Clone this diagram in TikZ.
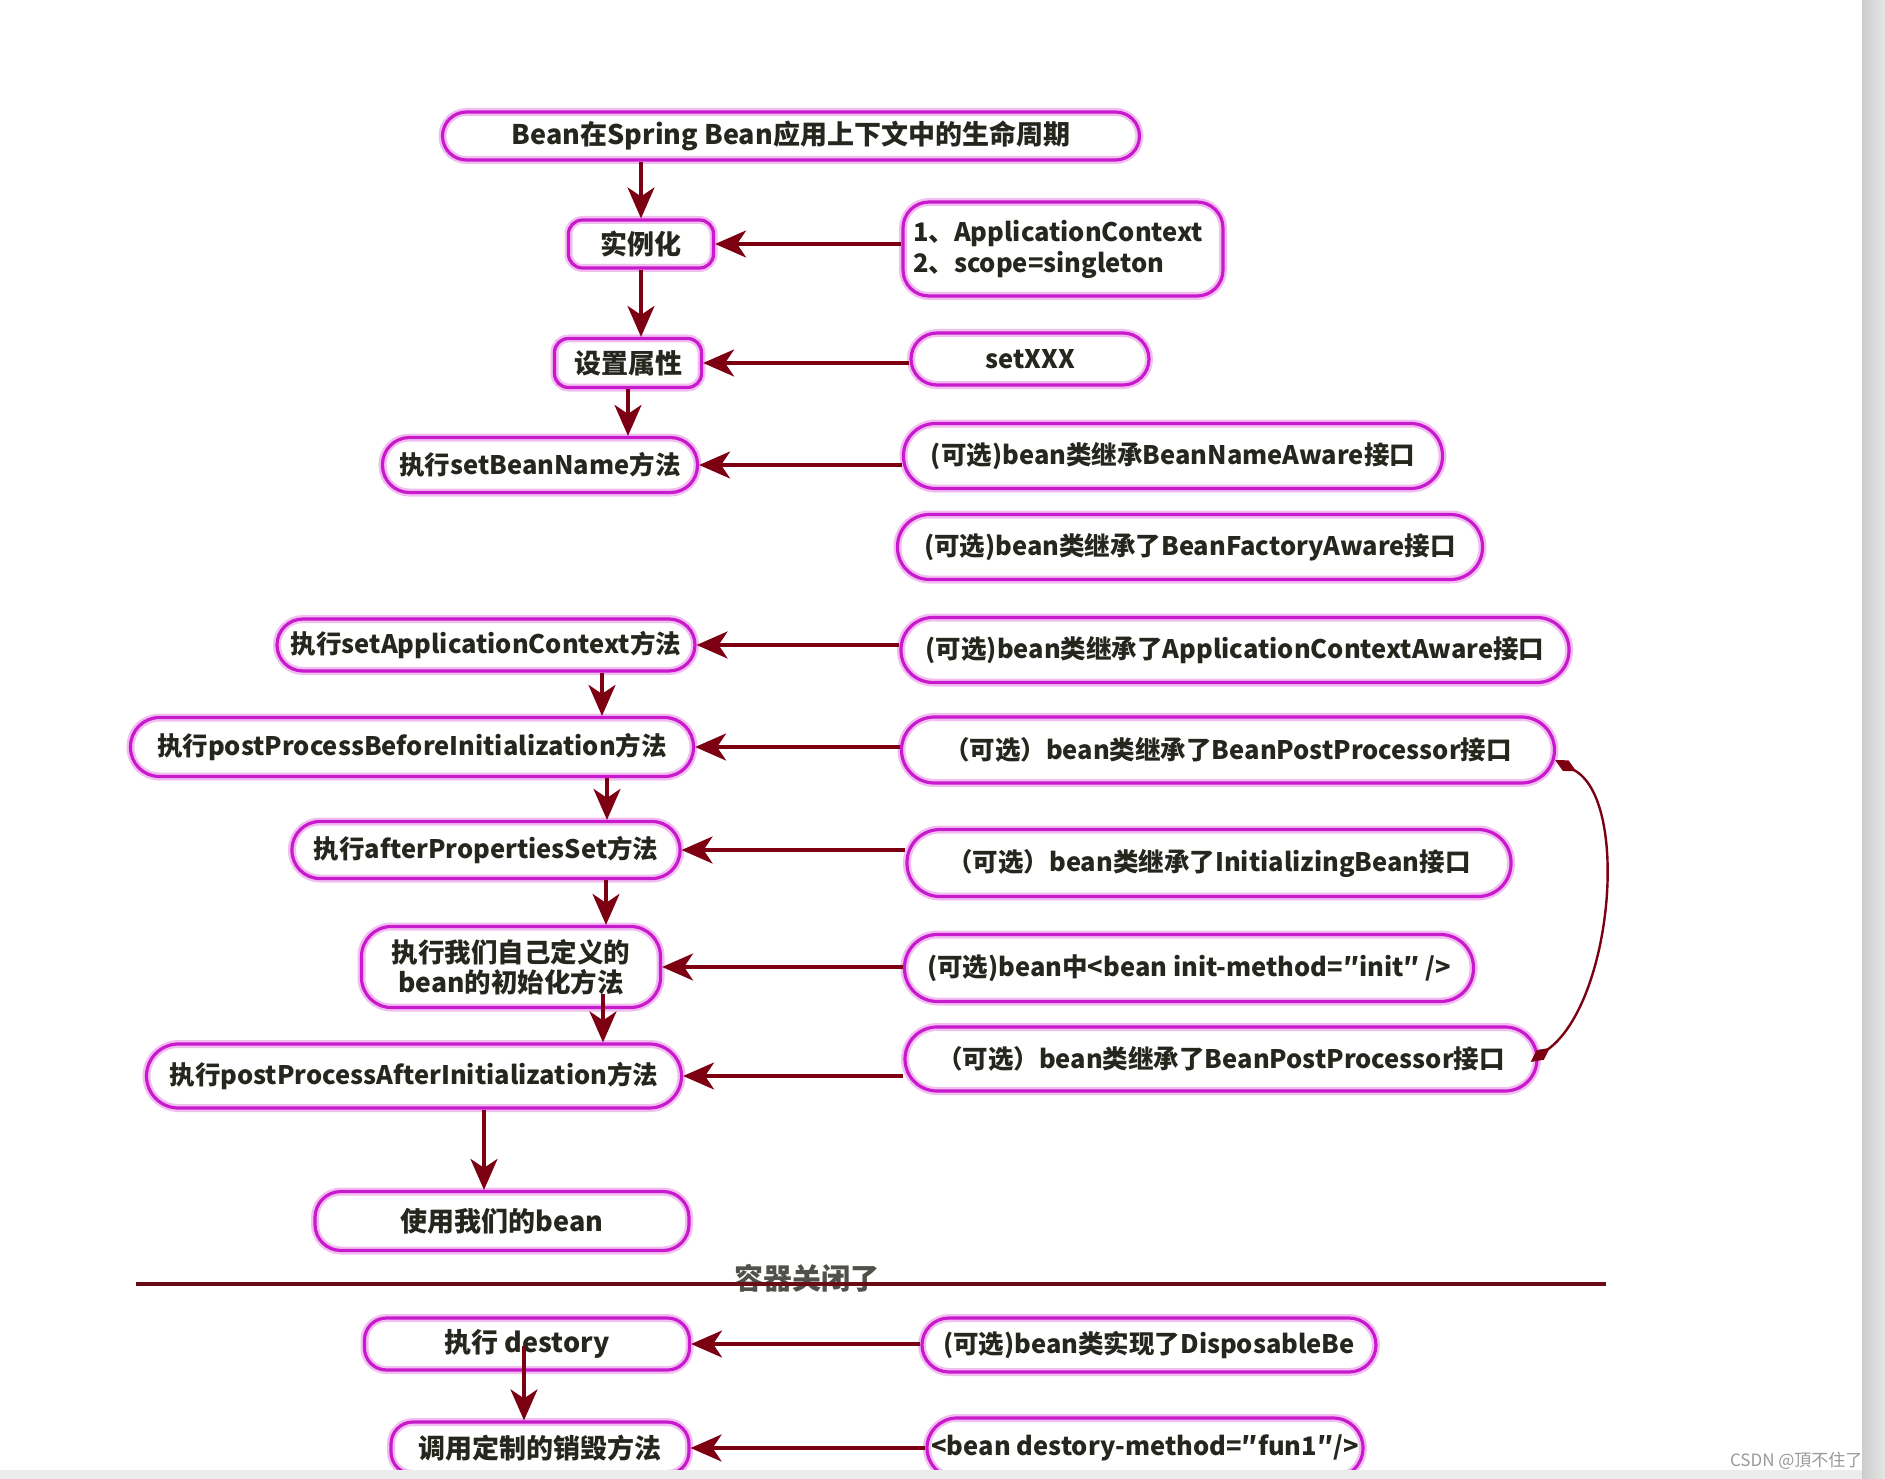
\documentclass[tikz,border=0pt]{standalone}
\usepackage{fontspec}
\setmainfont{Noto Sans CJK SC}
\usetikzlibrary{arrows.meta,calc}
\definecolor{mag}{RGB}{200,25,205}
\definecolor{glow}{RGB}{242,190,242}
\definecolor{arrc}{RGB}{125,0,18}
\definecolor{linec}{RGB}{105,12,22}
\definecolor{txt}{RGB}{38,38,30}
\newcommand\fs{\fontsize{25.5pt}{31pt}\selectfont\bfseries}
\tikzset{
  nd/.style={draw=mag, line width=3.2pt, rounded corners=#1,
     preaction={draw=glow, line width=8pt}, text=txt, inner sep=0pt, font=\fs, align=center},
  sz/.style 2 args={minimum width=#1pt, minimum height=#2pt},
  arr/.style={draw=arrc, line width=3.6pt, -{Stealth[length=31pt,width=27pt,inset=9pt]}},
  curv/.style={draw=arrc, line width=2.4pt, {Diamond[length=24pt,width=12pt]}-{Diamond[length=24pt,width=12pt]}},
}
\begin{document}
\begin{tikzpicture}[x=1pt,y=-1pt]
\useasboundingbox (0,0) rectangle (1885,1479);
\fill[white] (0,0) rectangle (1885,1479);

% left column
\node[nd=24pt, sz={697}{48}, font=\fontsize{27pt}{31pt}\selectfont\bfseries] (top) at (791,136) {Bean在Spring Bean应用上下文中的生命周期};
\node[nd=14pt, sz={145}{48}, font=\fontsize{27pt}{31pt}\selectfont\bfseries] (inst) at (641,244) {实例化};
\node[nd=14pt, sz={147}{49}, font=\fontsize{27pt}{31pt}\selectfont\bfseries] (setattr) at (628,363) {设置属性};
\node[nd=27pt, sz={315}{55}] (sbn) at (540,465) {执行setBeanName方法};
\node[nd=26pt, sz={418}{52}] (sac) at (486,645) {执行setApplicationContext方法};
\node[nd=29pt, sz={563}{59}] (ppb) at (412,747) {执行postProcessBeforeInitialization方法};
\node[nd=28pt, sz={388}{57}] (aps) at (486,850) {执行afterPropertiesSet方法};
\node[nd=30pt, sz={299}{81}, font=\fontsize{26.5pt}{30pt}\selectfont\bfseries] (cust) at (511,967) {执行我们自己定义的\\bean的初始化方法};
\node[nd=32pt, sz={535}{64}] (ppa) at (414,1076) {执行postProcessAfterInitialization方法};
\node[nd=26pt, sz={374}{59}, font=\fontsize{27pt}{31pt}\selectfont\bfseries] (use) at (502,1221) {使用我们的bean};
\node[nd=22pt, sz={325}{52}, font=\fontsize{27pt}{31pt}\selectfont\bfseries] (des) at (527,1344) {执行 destory};
\node[nd=22pt, sz={298}{52}, font=\fontsize{27pt}{31pt}\selectfont\bfseries] (call) at (540,1448) {调用定制的销毁方法};

% right column
\node[nd=26pt, sz={319}{94}, align=left, text width=300pt, inner xsep=10pt] (ctx) at (1063,249) {1、ApplicationContext\\2、scope=singleton};
\node[nd=26pt, sz={238}{52}] (setx) at (1030,359) {setXXX};
\node[nd=32pt, sz={539}{65}] (bna) at (1173,456) {(可选)bean类继承BeanNameAware接口};
\node[nd=32pt, sz={585}{65}] (bfa) at (1190,547) {(可选)bean类继承了BeanFactoryAware接口};
\node[nd=32pt, sz={668}{65}] (aca) at (1235,650) {(可选)bean类继承了ApplicationContextAware接口};
\node[nd=33pt, sz={653}{66}] (bpp1) at (1228,750) {（可选）bean类继承了BeanPostProcessor接口};
\node[nd=33pt, sz={604}{67}] (ib) at (1209,863) {（可选）bean类继承了InitializingBean接口};
\node[nd=33pt, sz={569}{67}] (im) at (1189,968) {(可选)bean中<bean init-method=″init″ />};
\node[nd=32pt, sz={632}{64}] (bpp2) at (1221,1059) {（可选）bean类继承了BeanPostProcessor接口};
\node[nd=27pt, sz={454}{54}] (disp) at (1149,1345) {(可选)bean类实现了DisposableBe};
\node[nd=30pt, sz={436}{60}] (dm) at (1145,1448) {<bean destory-method=″fun1″/>};

% anchor points for vertical arrows
\coordinate (v1a) at ($(sac.south)+(116,0)$);
\coordinate (v1b) at (v1a |- ppb.north);
\coordinate (v2a) at ($(ppb.south)+(195,0)$);
\coordinate (v2b) at (v2a |- aps.north);
\coordinate (v3a) at ($(aps.south)+(120,0)$);
\coordinate (v3b) at (v3a |- cust.north);
\coordinate (v4a) at ($(cust.south)+(92,-15)$);
\coordinate (v4b) at (v4a |- ppa.north);
\coordinate (v5a) at ($(ppa.south)+(70,0)$);
\coordinate (v5b) at (v5a |- use.north);
\coordinate (v6a) at ($(des.center)+(-3,2)$);
\coordinate (v6b) at (v6a |- call.north);

% vertical arrows
\draw[arr] (inst.north |- top.south) -- (inst.north);
\draw[arr] (inst.south) -- (inst.south |- setattr.north);
\draw[arr] (setattr.south) -- (setattr.south |- sbn.north);
\draw[arr] (v1a) -- (v1b);
\draw[arr] (v2a) -- (v2b);
\draw[arr] (v3a) -- (v3b);
\draw[arr] (v4a) -- (v4b);
\draw[arr] (v5a) -- (v5b);
\draw[arr] (v6a) -- (v6b);

% horizontal arrows
\draw[arr] (ctx.west |- inst.east) -- (inst.east);
\draw[arr] (setx.west |- setattr.east) -- (setattr.east);
\draw[arr] (bna.west |- sbn.east) -- (sbn.east);
\draw[arr] (aca.west |- sac.east) -- (sac.east);
\draw[arr] (bpp1.west |- ppb.east) -- (ppb.east);
\draw[arr] (ib.west |- aps.east) -- (aps.east);
\draw[arr] (im.west |- cust.east) -- (cust.east);
\draw[arr] (bpp2.west |- ppa.east) -- (ppa.east);
\draw[arr] (disp.west |- des.east) -- (des.east);
\draw[arr] (dm.west |- call.east) -- (call.east);

% curved connector between the two BeanPostProcessor boxes
\coordinate (c1) at ($(bpp1.east)+(-1,10)$);
\coordinate (c2) at ($(bpp2.east)+(-8,3)$);
\draw[curv] (c1) .. controls ($(c1)+(75,40)$) and ($(c2)+(82,-60)$) .. (c2);

% container closed divider
\node[text=txt!80, font=\fontsize{29pt}{33pt}\selectfont\bfseries] (closed) at (807,1278) {容器关闭了};
\coordinate (dl) at (136,1284);
\coordinate (dr) at (1606,1284);
\draw[linec, line width=4pt] (dl) -- (dr);

% page edges
\fill[gray!15] (0,1470) rectangle (1862,1479);
\shade[left color=gray!40, right color=gray!20] (1862,0) rectangle (1885,1479);
\node[text=gray!80, font=\fontsize{17pt}{20pt}\selectfont, anchor=east] (wm) at (1866,1461) {CSDN @頂不住了};
\end{tikzpicture}
\end{document}
